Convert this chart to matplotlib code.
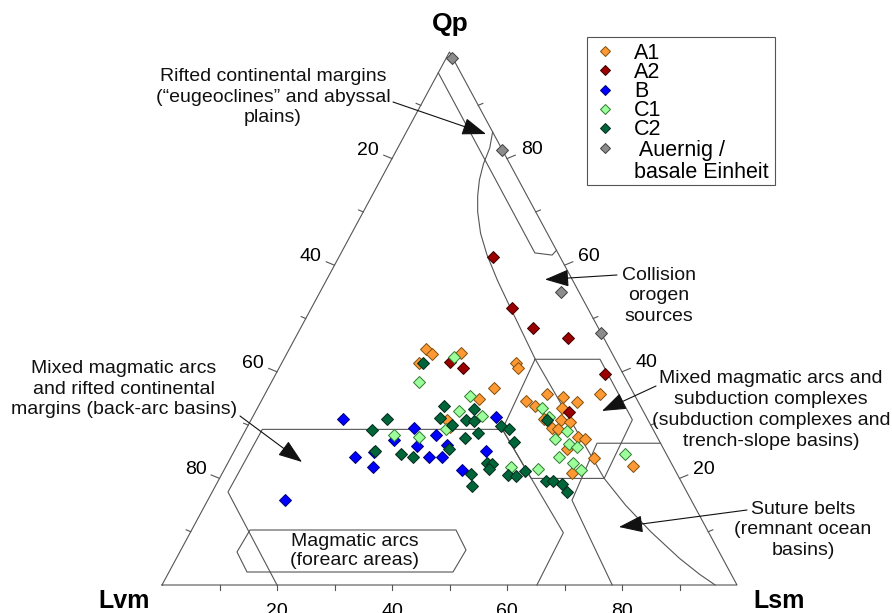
import numpy as np
import matplotlib
matplotlib.use('Agg')
from matplotlib import pyplot as plt
from matplotlib.patches import Polygon, Rectangle
from matplotlib.lines import Line2D

plt.rcParams['font.family'] = ['Liberation Sans', 'DejaVu Sans']

# point counts, Qp and Lsm in % (Lvm = 100 - Qp - Lsm)
a1_qp = [44.3, 43.3, 41.7, 43.5, 41.7, 40.7, 37.0, 34.9, 30.9, 29.7, 34.6, 35.9, 35.3, 34.3,
         35.8, 33.5, 33.2, 31.1, 31.0, 30.5, 29.4, 27.7, 27.3, 23.8, 21.1, 22.4, 25.5, 29.3]
a1_lsm = [23.8, 25.3, 23.9, 30.3, 40.7, 41.6, 39.3, 37.6, 34.1, 35.3, 46.0, 49.0, 52.1, 55.1,
          58.3, 48.2, 52.9, 50.8, 53.9, 55.7, 53.1, 58.5, 60.0, 63.2, 60.7, 70.7, 57.6, 54.3]
a2_qp = [61.5, 51.9, 48.3, 46.3, 39.5, 32.5, 40.7, 41.9]
a2_lsm = [26.8, 34.9, 40.4, 47.4, 57.3, 54.5, 32.0, 29.1]
b_qp = [31.1, 24.1, 22.2, 15.9, 25.0, 27.2, 29.5, 28.2, 26.1, 24.0, 24.0, 26.2, 21.6, 25.1, 31.5]
b_lsm = [15.9, 21.5, 25.6, 13.4, 24.3, 26.7, 29.1, 33.5, 31.3, 34.4, 36.7, 36.4, 41.3, 43.8, 42.4]
c1_qp = [42.8, 38.1, 35.5, 32.7, 31.8, 29.3, 28.2, 27.7, 22.2, 21.7, 33.2, 31.6, 28.8, 27.4,
         26.4, 25.8, 24.1, 22.8, 21.5, 24.5]
c1_lsm = [29.3, 25.6, 35.8, 35.3, 39.8, 34.8, 26.3, 30.9, 49.6, 54.5, 49.5, 51.5, 56.0, 54.7,
          57.6, 59.3, 57.0, 60.0, 62.2, 68.3]
c2_qp = [31.1, 29.0, 25.1, 24.6, 24.0, 41.7, 33.5, 31.3, 30.0, 33.1, 31.0, 30.8, 28.6, 27.5,
         25.5, 20.9, 18.5, 22.9, 22.7, 21.7, 29.8, 29.2, 26.9, 20.6, 20.5, 21.3, 30.9, 19.6,
         19.5, 19.0, 17.5]
c2_lsm = [23.5, 22.0, 24.5, 29.2, 31.7, 24.6, 32.3, 32.7, 35.4, 37.7, 37.4, 38.8, 40.7, 39.0,
          37.1, 43.3, 44.6, 45.1, 46.0, 46.0, 44.0, 45.8, 47.8, 49.9, 51.3, 52.5, 51.5, 56.9,
          58.3, 60.0, 61.7]
au_qp = [98.9, 81.6, 55.0, 47.3]
au_lsm = [1.0, 18.4, 41.9, 52.7]

groups = ['A1', 'A2', 'B', 'C1', 'C2', ' Auernig /', 'basale Einheit']
face = ['#ff9933', '#9b0000', '#0000ff', '#9cff9c', '#00663a', '#8c8c8c']
edge = ['#80500f', '#3a0000', '#00007a', '#2f7a2f', '#06281a', '#404040']
series = [(a1_qp, a1_lsm), (a2_qp, a2_lsm), (b_qp, b_lsm), (c1_qp, c1_lsm),
          (c2_qp, c2_lsm), (au_qp, au_lsm)]

# field boundaries as (Qp, Lsm)
strip = [(96.1, 0.0), (62.3, 33.7), (61.9, 36.9), (62.8, 37.2)]
collision = [(85, 15.0), (82, 16.0), (79, 16.4), (76, 17.2), (73, 18.4), (70, 19.9), (66, 22.4),
             (62, 25.5), (57, 29.9), (52, 34.6), (42.35, 43.75), (20, 66.9), (15, 73.1),
             (10, 80.0), (5, 87.5), (2, 92.5), (0, 96.2)]
hexagon = [(42.35, 43.7), (42.35, 55.0), (31.0, 66.3), (20.0, 66.9), (20.0, 54.2), (29.2, 44.6),
           (42.35, 43.7)]
backarc = [(0, 20.0), (17.45, 2.75), (29.2, 2.85), (29.2, 44.6), (9.8, 64.9), (0, 65.2)]
line_e = [(0, 78.3), (15.9, 63.35), (26.6, 62.35), (26.6, 73.4)]

W, H = 892, 613
SX, SY = 5.75, 5.33
fig = plt.figure(figsize=(W / 100, H / 100), dpi=100)
ax = fig.add_axes([162 / W, 28 / H, 575 / W, 533 / H])
ax.set_xlim(0, 100)
ax.set_ylim(0, 100)
ax.axis('off')

def tern(qp, lsm):
    qp = np.asarray(qp, float)
    lsm = np.asarray(lsm, float)
    return lsm + qp / 2, qp

def fp(px, py):
    return px / W, 1 - py / H

lc = '#555555'
ax.plot([0, 100, 50, 0], [0, 0, 100, 0], color=lc, lw=0.8, clip_on=False)
for ln in [strip, collision, hexagon, backarc, line_e]:
    q, s = zip(*ln)
    x, y = tern(q, s)
    ax.plot(x, y, color=lc, lw=0.8, clip_on=False)

# ticks
for v in range(10, 100, 10):
    major = v % 20 == 0
    L = 9 if major else 5
    ax.plot([v, v], [0, -5 / SY], color=lc, lw=0.8, clip_on=False)
    if major:
        ax.text(v, -18 / SY, str(v), ha='center', va='top', fontsize=14)
    # left edge (Lsm = 0), label = Lvm
    qp = 100 - v
    x, y = tern(qp, 0)
    ax.plot([x, x - 0.92 * L / SX], [y, y + 0.38 * L / SY], color=lc, lw=0.8, clip_on=False)
    if major:
        ax.text(x - 24 / SX, y + 8.5 / SY, str(v), ha='center', va='center', fontsize=14)
    # right edge (Lvm = 0), label = Qp
    x, y = tern(v, 100 - v)
    ax.plot([x, x + 0.92 * L / SX], [y, y + 0.38 * L / SY], color=lc, lw=0.8, clip_on=False)
    if major:
        ax.text(x + 24.5 / SX, y + 9 / SY, str(v), ha='center', va='center', fontsize=14)

for (q, s), fc, ec in zip(series, face, edge):
    x, y = tern(q, s)
    ax.plot(x, y, 'D', ms=6.4, mfc=fc, mec=ec, mew=0.7, ls='none', clip_on=False)

# corner labels
fig.text(*fp(450, 31), 'Qp', ha='center', va='baseline', fontsize=19, fontweight='bold')
fig.text(*fp(150, 608), 'Lvm', ha='right', va='baseline', fontsize=18, fontweight='bold')
fig.text(*fp(753, 608), 'Lsm', ha='left', va='baseline', fontsize=18, fontweight='bold')

# field annotations
notes = [
    ('Rifted continental margins\n(\u201ceugeoclines\u201d and abyssal\nplains)', (273, 97), (393, 102), (486, 134)),
    ('Collision\norogen\nsources', (659, 296), (617, 275), (545, 279.5)),
    ('Mixed magmatic arcs\nand rifted continental\nmargins (back-arc basins)', (124, 389), (240, 416), (302, 462)),
    ('Mixed magmatic arcs and\nsubduction complexes\n(subduction complexes and\ntrench-slope basins)', (771, 410), (656, 386), (602, 411)),
    ('Suture belts\n(remnant ocean\nbasins)', (803, 530), (747, 510), (619, 527)),
]
for txt, c, s, t in notes:
    fig.text(*fp(*c), txt, ha='center', va='center', fontsize=14, linespacing=1.3, color='#111111')
    ax.annotate('', xy=fp(*t), xycoords='figure fraction', xytext=fp(*s), textcoords='figure fraction',
                arrowprops=dict(arrowstyle='-|>,head_length=1.25,head_width=0.45', color='#111111',
                                lw=0.8, shrinkA=0, shrinkB=0, mutation_scale=12))

box = [(250, 530), (456, 530), (466, 550), (453, 572), (247, 572), (237, 552)]
fig.patches.append(Polygon([fp(*p) for p in box], closed=True, fill=False, ec=lc, lw=0.8,
                           transform=fig.transFigure))
fig.text(*fp(355, 551), 'Magmatic arcs\n(forearc areas)', ha='center', va='center', fontsize=14,
         linespacing=1.2, color='#111111')

# legend
x0, y0 = fp(587, 185)
x1, y1 = fp(775, 37)
fig.patches.append(Rectangle((x0, y0), x1 - x0, y1 - y0, fill=False, ec='#555555', lw=0.8,
                             transform=fig.transFigure))
rows = [51, 70, 89.5, 108.5, 127.5, 148]
for fc, ec, yy in zip(face, edge, rows):
    fig.add_artist(Line2D([605 / W], [1 - yy / H], marker='D', ms=5.2, mfc=fc, mec=ec, mew=0.7,
                          ls='none', transform=fig.transFigure))
for lab, yy in zip(groups, rows + [170]):
    fig.text(*fp(634, yy + 7.7), lab, ha='left', va='baseline', fontsize=15.5)

fig.savefig('out.png', dpi=100)
